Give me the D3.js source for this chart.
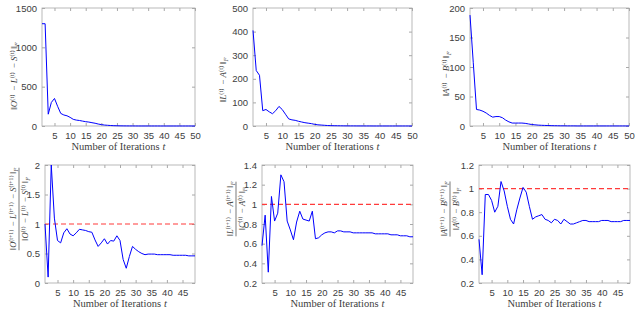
<!DOCTYPE html>
<html>
<head>
<meta charset="utf-8">
<script src="https://cdn.jsdelivr.net/npm/d3@7"></script>
<style>
  body { margin: 0; background: #fff; }
  svg { display: block; }
</style>
</head>
<body>
<div id="chart"></div>
<script>
// residual norms, t = 1..50
const errOLS = [1300, 1300, 150, 300, 350, 250, 160, 140, 130, 110,
    85, 75, 70, 62, 55, 50, 42, 35, 25, 18,
    12, 9, 6, 4, 3, 2, 1.5, 1, 0.8, 0.6,
    0.5, 0.4, 0.4, 0.3, 0.3, 0.2, 0.2, 0.2, 0.1, 0.1,
    0.1, 0.1, 0.1, 0.1, 0.1, 0.1, 0.1, 0.1, 0.1, 0.1];
const errLA = [405, 235, 215, 65, 70, 60, 52, 65, 83, 70,
    50, 30, 26, 24, 20, 17, 14, 12, 10, 7,
    5, 4, 3, 2, 1.5, 1.2, 1, 0.8, 0.6, 0.5,
    0.4, 0.4, 0.3, 0.3, 0.2, 0.2, 0.2, 0.1, 0.1, 0.1,
    0.1, 0.1, 0.1, 0.1, 0.1, 0.1, 0.1, 0.1, 0.1, 0.1];
const errAB = [188, 108, 28, 27, 25, 22, 18, 15, 16, 16,
    14, 10, 7, 5, 5, 5, 5, 4.5, 3.5, 2.5,
    2, 1.5, 1.2, 1, 0.8, 0.6, 0.5, 0.4, 0.3, 0.3,
    0.2, 0.2, 0.2, 0.1, 0.1, 0.1, 0.1, 0.1, 0.1, 0.1,
    0.1, 0.1, 0.1, 0.1, 0.1, 0.1, 0.1, 0.1, 0.1, 0.1];

// ratios of successive residuals, t = 1..49
const ratioOLS = [1.0, 0.1, 2.0, 1.1, 0.72, 0.68, 0.85, 0.92, 0.83, 0.80,
    0.85, 0.91, 0.90, 0.89, 0.87, 0.86, 0.73, 0.62, 0.68, 0.75,
    0.66, 0.72, 0.71, 0.80, 0.72, 0.40, 0.25, 0.45, 0.62, 0.57,
    0.53, 0.50, 0.48, 0.49, 0.49, 0.49, 0.48, 0.48, 0.48, 0.48,
    0.48, 0.47, 0.47, 0.47, 0.47, 0.47, 0.46, 0.46, 0.46];
const ratioLA = [0.58, 0.89, 0.31, 1.08, 0.83, 0.91, 1.30, 1.23, 0.83, 0.74,
    0.64, 0.82, 0.93, 0.85, 0.84, 0.83, 0.93, 0.65, 0.66, 0.69,
    0.71, 0.72, 0.72, 0.71, 0.73, 0.73, 0.72, 0.72, 0.72, 0.71,
    0.71, 0.71, 0.71, 0.71, 0.71, 0.71, 0.70, 0.70, 0.70, 0.70,
    0.70, 0.69, 0.69, 0.69, 0.68, 0.68, 0.68, 0.67, 0.67];
const ratioAB = [0.57, 0.27, 0.95, 0.95, 0.90, 0.80, 0.85, 1.06, 0.98, 0.85,
    0.74, 0.70, 0.82, 0.92, 1.01, 0.97, 0.85, 0.74, 0.76, 0.77,
    0.78, 0.74, 0.73, 0.71, 0.74, 0.73, 0.70, 0.74, 0.72, 0.70,
    0.70, 0.71, 0.72, 0.73, 0.73, 0.72, 0.72, 0.72, 0.72, 0.73,
    0.73, 0.73, 0.72, 0.72, 0.72, 0.72, 0.73, 0.73, 0.73];

const xTicksTop = [5, 10, 15, 20, 25, 30, 35, 40, 45, 50];
const xTicksBottom = [5, 10, 15, 20, 25, 30, 35, 40, 45];
const xLabel = "Number of Iterations";

const width = 638, height = 314;
const boxColor = "#a8a8a8", textColor = "#404040";
const serif = "Liberation Serif, Times New Roman, serif";

const svg = d3.select("#chart").append("svg")
    .attr("width", width)
    .attr("height", height);

// each term: [letter, superscript]
const panels = [
    { data: errOLS, x0: 42, x1: 195, y0: 8, y1: 126, xMax: 50, yDom: [0, 1500], yTicks: [0, 500, 1000, 1500],
      xTicks: xTicksTop, fmt: d3.format("d"), label: { terms: [["O", "(t)"], ["L", "(t)"], ["S", "(t)"]], x: 14, y: 76 } },
    { data: errLA, x0: 253, x1: 412, y0: 8, y1: 126, xMax: 50, yDom: [0, 500], yTicks: [0, 100, 200, 300, 400, 500],
      xTicks: xTicksTop, fmt: d3.format("d"), label: { terms: [["L", "(t)"], ["A", "(t)"]], x: 223, y: 80 } },
    { data: errAB, x0: 470, x1: 629, y0: 8, y1: 126, xMax: 50, yDom: [0, 200], yTicks: [0, 50, 100, 150, 200],
      xTicks: xTicksTop, fmt: d3.format("d"), label: { terms: [["A", "(t)"], ["B", "(t)"]], x: 446, y: 74 } },
    { data: ratioOLS, x0: 45, x1: 195, y0: 165, y1: 283, xMax: 49, yDom: [0, 2], yTicks: [0, 0.5, 1, 1.5, 2],
      xTicks: xTicksBottom, fmt: d3.format("~g"), ref: 1,
      frac: { num: [["O", "(t+1)"], ["L", "(t+1)"], ["S", "(t+1)"]], den: [["O", "(t)"], ["L", "(t)"], ["S", "(t)"]], x: 19, y: 209 } },
    { data: ratioLA, x0: 262, x1: 413, y0: 165, y1: 283, xMax: 49, yDom: [0.2, 1.4], yTicks: [0.2, 0.4, 0.6, 0.8, 1, 1.2, 1.4],
      xTicks: xTicksBottom, fmt: d3.format("~g"), ref: 1,
      frac: { num: [["L", "(t+1)"], ["A", "(t+1)"]], den: [["C", "(t)"], ["A", "(t)"]], x: 236, y: 209 } },
    { data: ratioAB, x0: 479, x1: 630, y0: 165, y1: 283, xMax: 49, yDom: [0.2, 1.2], yTicks: [0.2, 0.4, 0.6, 0.8, 1, 1.2],
      xTicks: xTicksBottom, fmt: d3.format("~g"), ref: 1,
      frac: { num: [["A", "(t+1)"], ["B", "(t+1)"]], den: [["A", "(t)"], ["B", "(t)"]], x: 450, y: 209 } }
];

function normText(g, terms, size) {
    /* writes ‖X^(t) − Y^(t)‖_F into a text element */
    g.append("tspan").text("\u2016");
    terms.forEach((t, i) => {
        if (i > 0) g.append("tspan").text(" \u2212 ");
        g.append("tspan").attr("font-style", "italic").text(t[0]);
        g.append("tspan").attr("font-size", size * 0.7).attr("dy", -size * 0.4).text(t[1]);
        g.append("tspan").attr("dy", size * 0.4).text("\u2009");
    });
    g.append("tspan").text("\u2016");
    g.append("tspan").attr("font-size", size * 0.7).attr("font-style", "italic").attr("dy", size * 0.25).text("F");
}

panels.forEach(p => {
    const x = d3.scaleLinear().domain([1, p.xMax]).range([p.x0, p.x1]);
    const y = d3.scaleLinear().domain(p.yDom).range([p.y1, p.y0]);
    const g = svg.append("g");

    // ticks on all four sides, pointing inward
    g.append("g").attr("transform", "translate(0," + p.y1 + ")")
        .call(d3.axisBottom(x).tickValues(p.xTicks).tickSizeInner(-3).tickSizeOuter(0).tickPadding(6));
    g.append("g").attr("transform", "translate(0," + p.y0 + ")")
        .call(d3.axisTop(x).tickValues(p.xTicks).tickSizeInner(-3).tickSizeOuter(0).tickFormat(""));
    g.append("g").attr("transform", "translate(" + p.x0 + ",0)")
        .call(d3.axisLeft(y).tickValues(p.yTicks).tickFormat(p.fmt).tickSizeInner(-3).tickSizeOuter(0).tickPadding(5));
    g.append("g").attr("transform", "translate(" + p.x1 + ",0)")
        .call(d3.axisRight(y).tickValues(p.yTicks).tickSizeInner(-3).tickSizeOuter(0).tickFormat(""));

    g.selectAll(".domain").remove();
    g.selectAll(".tick line").attr("stroke", boxColor);
    g.selectAll(".tick text")
        .attr("fill", textColor)
        .attr("font-family", "Liberation Sans, Arial, sans-serif")
        .attr("font-size", 9.5);

    g.append("rect")
        .attr("x", p.x0).attr("y", p.y0)
        .attr("width", p.x1 - p.x0).attr("height", p.y1 - p.y0)
        .attr("fill", "none").attr("stroke", boxColor).attr("stroke-width", 0.8);

    if (p.ref !== undefined) {
        g.append("line")
            .attr("x1", x(1)).attr("x2", x(p.xMax))
            .attr("y1", y(p.ref)).attr("y2", y(p.ref))
            .attr("stroke", "#ff3b3b").attr("stroke-width", 1.2)
            .attr("stroke-dasharray", "5,3");
    }

    const line = d3.line()
        .x((d, i) => x(i + 1))
        .y(d => y(d));
    g.append("path")
        .datum(p.data)
        .attr("d", line)
        .attr("fill", "none")
        .attr("stroke", "#0000ff")
        .attr("stroke-width", 1);

    // x label, italic t as its own text next to it
    const xl = g.append("text")
        .attr("x", (p.x0 + p.x1) / 2 - 3)
        .attr("y", p.y1 + 24)
        .attr("text-anchor", "middle")
        .attr("font-family", serif)
        .attr("font-size", 10.5)
        .attr("fill", textColor)
        .text(xLabel);
    const xw = xl.node().getComputedTextLength();
    g.append("text")
        .attr("x", (p.x0 + p.x1) / 2 - 3 + xw / 2 + 3)
        .attr("y", p.y1 + 24)
        .attr("font-family", serif)
        .attr("font-style", "italic")
        .attr("font-size", 10.5)
        .attr("fill", textColor)
        .text("t");

    // y label
    const fs = 9;
    if (p.label) {
        const t = g.append("text")
            .attr("transform", "translate(" + p.label.x + "," + p.label.y + ") rotate(-90)")
            .attr("text-anchor", "middle")
            .attr("dy", "0.35em")
            .attr("font-family", serif)
            .attr("font-size", fs)
            .attr("fill", textColor);
        normText(t, p.label.terms, fs);
    }
    if (p.frac) {
        const ff = 8.5;
        const fg = g.append("g")
            .attr("transform", "translate(" + p.frac.x + "," + p.frac.y + ") rotate(-90)");
        const num = fg.append("text").attr("y", -3)
            .attr("text-anchor", "middle")
            .attr("font-family", serif)
            .attr("font-size", ff).attr("fill", textColor);
        normText(num, p.frac.num, ff);
        const den = fg.append("text").attr("y", 9)
            .attr("text-anchor", "middle")
            .attr("font-family", serif)
            .attr("font-size", ff).attr("fill", textColor);
        normText(den, p.frac.den, ff);
        const w = Math.max(num.node().getComputedTextLength(), den.node().getComputedTextLength());
        fg.append("line")
            .attr("x1", -w / 2).attr("x2", w / 2)
            .attr("y1", 0).attr("y2", 0)
            .attr("stroke", textColor).attr("stroke-width", 0.7);
    }
});
</script>
</body>
</html>
